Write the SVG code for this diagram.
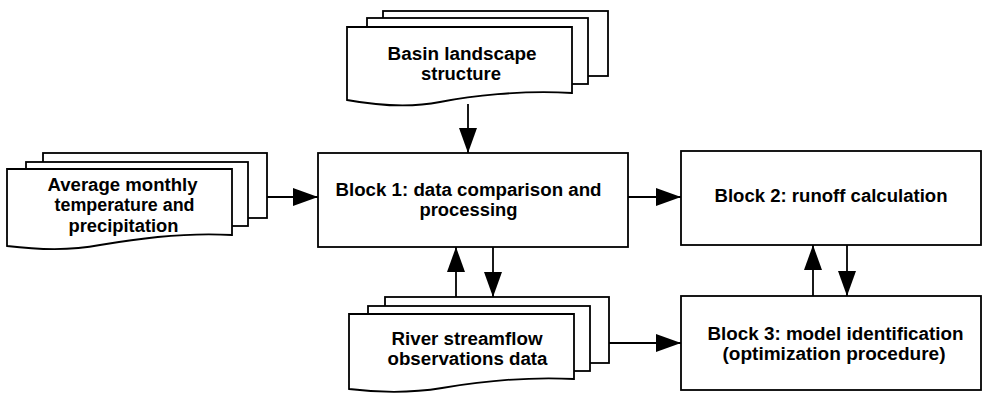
<svg xmlns="http://www.w3.org/2000/svg" width="983" height="393" viewBox="0 0 983 393">
<style>
.shape{fill:#fff;stroke:#000;stroke-width:1.8}
.conn{fill:none;stroke:#000;stroke-width:1.8}
.t{font-family:"Liberation Sans",Arial,sans-serif;font-weight:bold;font-size:19.2px;fill:#000;text-anchor:middle}
</style>
<defs>
<marker id="ah" markerUnits="userSpaceOnUse" markerWidth="25" markerHeight="18" refX="25" refY="9" orient="auto">
<path d="M0,0 L25,9 L0,18 Z" fill="#000"/>
</marker>
</defs>
<rect width="983" height="393" fill="#fff"/>

<g id="basin">
<rect class="shape" x="383" y="11" width="225" height="65"/>
<rect class="shape" x="367" y="18" width="221" height="66"/>
<path class="shape" d="M347,27 H572 V93 C520,90 470,96 440,102 C410,108 380,106 347,100 Z"/>
<text class="t" x="462" y="59.5" textLength="149" lengthAdjust="spacingAndGlyphs">Basin landscape</text>
<text class="t" x="461" y="79.8" textLength="80" lengthAdjust="spacingAndGlyphs">structure</text>
</g>

<g id="avg">
<rect class="shape" x="43" y="153" width="224" height="65"/>
<rect class="shape" x="26" y="162" width="222" height="64"/>
<path class="shape" d="M7,169 H232 V235 C180,232 130,240 100,245 C70,251 40,250 7,246 Z"/>
<text class="t" x="122.5" y="190.5" textLength="150" lengthAdjust="spacingAndGlyphs">Average monthly</text>
<text class="t" x="124.5" y="211" textLength="140" lengthAdjust="spacingAndGlyphs">temperature and</text>
<text class="t" x="123.5" y="231.5" textLength="110" lengthAdjust="spacingAndGlyphs">precipitation</text>
</g>

<g id="block1">
<rect class="shape" x="318" y="153" width="310" height="94"/>
<text class="t" x="468.5" y="195.8" textLength="266" lengthAdjust="spacingAndGlyphs">Block 1: data comparison and</text>
<text class="t" x="468.5" y="216" textLength="98" lengthAdjust="spacingAndGlyphs">processing</text>
</g>

<g id="block2">
<rect class="shape" x="681" y="151" width="300" height="94"/>
<text class="t" x="831" y="201.5" textLength="233" lengthAdjust="spacingAndGlyphs">Block 2: runoff calculation</text>
</g>

<g id="block3">
<rect class="shape" x="681" y="296" width="300" height="94"/>
<text class="t" x="835.5" y="339.5" textLength="256" lengthAdjust="spacingAndGlyphs">Block 3: model identification</text>
<text class="t" x="834" y="360" textLength="223" lengthAdjust="spacingAndGlyphs">(optimization procedure)</text>
</g>

<g id="river">
<rect class="shape" x="385" y="297" width="224" height="66"/>
<rect class="shape" x="368" y="306" width="222" height="65"/>
<path class="shape" d="M349,314 H574 V379 C522,376 472,383 442,388 C412,393 382,393 349,389 Z"/>
<text class="t" x="467" y="345" textLength="151" lengthAdjust="spacingAndGlyphs">River streamflow</text>
<text class="t" x="467.5" y="365.2" textLength="160" lengthAdjust="spacingAndGlyphs">observations data</text>
</g>

<g id="connectors">
<path class="conn" d="M468,104 L468,153" marker-end="url(#ah)"/>
<path class="conn" d="M267,197 L318,197" marker-end="url(#ah)"/>
<path class="conn" d="M628,197 L681,197" marker-end="url(#ah)"/>
<path class="conn" d="M456,297 L456,247" marker-end="url(#ah)"/>
<path class="conn" d="M493,247 L493,297" marker-end="url(#ah)"/>
<path class="conn" d="M609,343 L681,343" marker-end="url(#ah)"/>
<path class="conn" d="M813,296 L813,245" marker-end="url(#ah)"/>
<path class="conn" d="M847,245 L847,296" marker-end="url(#ah)"/>
</g>
</svg>
